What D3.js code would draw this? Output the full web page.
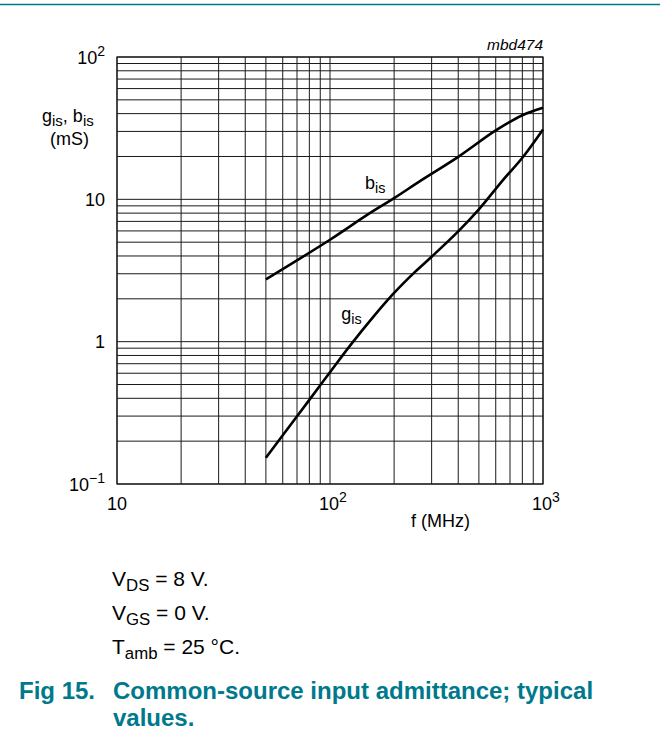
<!DOCTYPE html>
<html>
<head>
<meta charset="utf-8">
<script src="https://cdn.jsdelivr.net/npm/d3@7"></script>
<style>
  body { margin: 0; background: #fff; }
  text { font-family: "Liberation Sans", Arial, sans-serif; }
</style>
</head>
<body>
<div id="wrapper"></div>
<script>
// b_is curve (mS) against frequency (MHz)
const bisFreq = [50, 100, 150, 200, 270, 400, 600, 800, 1000]
const bisValues = [2.74, 5.2, 7.8, 10.2, 13.7, 19.9, 30.5, 39, 44]

// g_is curve (mS) against frequency (MHz)
const gisFreq = [50, 60, 80, 100, 125, 160, 200, 250, 300, 400, 500, 650, 800, 1000]
const gisValues = [0.153, 0.22, 0.39, 0.61, 0.95, 1.5, 2.2, 3.08, 3.95, 5.95, 8.5, 13.7, 19.6, 31]

// tick labels: base + exponent
const xTicks = [10, 100, 1000]
const xTickLabels = [["10", ""], ["10", "2"], ["10", "3"]]
const yTicks = [100, 10, 1, 0.1]
const yTickLabels = [["10", "2"], ["10", ""], ["1", ""], ["10", "\u22121"]]

const conditions = [["V", "DS", " = 8 V."], ["V", "GS", " = 0 V."], ["T", "amb", " = 25 \u00B0C."]]

const teal = "#00798c"

function drawChart() {
  let dimensions = {
    width: 660,
    height: 740,
    margin: { top: 57, right: 117, bottom: 256, left: 117 },
  }
  dimensions.boundedWidth = dimensions.width - dimensions.margin.left - dimensions.margin.right
  dimensions.boundedHeight = dimensions.height - dimensions.margin.top - dimensions.margin.bottom

  const wrapper = d3.select("#wrapper")
    .append("svg")
      .attr("width", dimensions.width)
      .attr("height", dimensions.height)

  // teal rule at the top of the page
  wrapper.append("line")
    .attr("x1", 0).attr("x2", dimensions.width)
    .attr("y1", 4.5).attr("y2", 4.5)
    .attr("stroke", teal)
    .attr("stroke-width", 1.5)

  const bounds = wrapper.append("g")
    .attr("transform", `translate(${dimensions.margin.left}, ${dimensions.margin.top})`)

  const xScale = d3.scaleLog()
    .domain([10, 1000])
    .range([0, dimensions.boundedWidth])

  const yScale = d3.scaleLog()
    .domain([0.1, 100])
    .range([dimensions.boundedHeight, 0])

  // grid
  const grid = bounds.append("g")
    .attr("stroke", "#1a1a1a")
    .attr("stroke-width", 1)

  grid.selectAll(".vgrid")
    .data(xScale.ticks())
    .join("line")
      .attr("x1", d => xScale(d)).attr("x2", d => xScale(d))
      .attr("y1", 0).attr("y2", dimensions.boundedHeight)

  grid.selectAll(".hgrid")
    .data(yScale.ticks())
    .join("line")
      .attr("y1", d => yScale(d)).attr("y2", d => yScale(d))
      .attr("x1", 0).attr("x2", dimensions.boundedWidth)

  bounds.append("rect")
    .attr("width", dimensions.boundedWidth)
    .attr("height", dimensions.boundedHeight)
    .attr("fill", "none")
    .attr("stroke", "#1a1a1a")
    .attr("stroke-width", 1.2)

  // curves
  const lineGenerator = d3.line()
    .x(d => xScale(d[0]))
    .y(d => yScale(d[1]))
    .curve(d3.curveCatmullRom.alpha(0.5))

  bounds.append("path")
    .attr("d", lineGenerator(d3.zip(bisFreq, bisValues)))
    .attr("fill", "none")
    .attr("stroke", "#000")
    .attr("stroke-width", 2.6)

  bounds.append("path")
    .attr("d", lineGenerator(d3.zip(gisFreq, gisValues)))
    .attr("fill", "none")
    .attr("stroke", "#000")
    .attr("stroke-width", 2.6)

  // helper for text with a subscript part
  const subText = (sel, main, sub, rest, size) => {
    sel.append("tspan").text(main)
    sel.append("tspan").text(sub)
      .attr("font-size", size * 0.8)
      .attr("dy", size * 0.22)
    if (rest) {
      sel.append("tspan").text(rest)
        .attr("dy", -size * 0.22)
    }
  }

  // curve labels
  const bLabel = bounds.append("text")
    .attr("x", xScale(146)).attr("y", yScale(11.8))
    .attr("font-size", 18)
  subText(bLabel, "b", "is", "", 18)

  const gLabel = bounds.append("text")
    .attr("x", xScale(113)).attr("y", yScale(1.42))
    .attr("font-size", 18)
  subText(gLabel, "g", "is", "", 18)

  // tick labels with superscripts
  const supText = (sel, base, exp, size) => {
    sel.append("tspan").text(base)
    if (exp) {
      sel.append("tspan").text(exp)
        .attr("font-size", size * 0.78)
        .attr("dy", -size * 0.42)
    }
  }

  yTicks.forEach((t, i) => {
    const label = bounds.append("text")
      .attr("x", -12)
      .attr("y", yScale(t) + 6.5)
      .attr("text-anchor", "end")
      .attr("font-size", 18)
    supText(label, yTickLabels[i][0], yTickLabels[i][1], 18)
  })

  xTicks.forEach((t, i) => {
    const label = bounds.append("text")
      .attr("x", xScale(t) + (xTickLabels[i][1] ? 3 : 0))
      .attr("y", dimensions.boundedHeight + 26)
      .attr("text-anchor", "middle")
      .attr("font-size", 18)
    supText(label, xTickLabels[i][0], xTickLabels[i][1], 18)
  })

  // axis titles
  const yTitle = wrapper.append("text")
    .attr("x", 42).attr("y", 122)
    .attr("font-size", 18)
  yTitle.append("tspan").text("g")
  yTitle.append("tspan").text("is").attr("font-size", 15).attr("dy", 4)
  yTitle.append("tspan").text(", b").attr("dy", -4)
  yTitle.append("tspan").text("is").attr("font-size", 15).attr("dy", 4)

  wrapper.append("text")
    .attr("x", 50).attr("y", 145)
    .attr("font-size", 18)
    .text("(mS)")

  bounds.append("text")
    .attr("x", xScale(330)).attr("y", dimensions.boundedHeight + 43)
    .attr("text-anchor", "middle")
    .attr("font-size", 18)
    .text("f (MHz)")

  bounds.append("text")
    .attr("x", dimensions.boundedWidth).attr("y", -7)
    .attr("text-anchor", "end")
    .attr("font-size", 15.5)
    .attr("font-style", "italic")
    .text("mbd474")

  // measurement conditions
  conditions.forEach((c, i) => {
    const t = wrapper.append("text")
      .attr("x", 112).attr("y", 586 + i * 34)
      .attr("font-size", 21)
    subText(t, c[0], c[1], c[2], 21)
  })

  // figure caption
  const caption = [["Fig 15.", 19, 699], ["Common-source input admittance; typical", 113, 699], ["values.", 113, 726]]
  caption.forEach(c => {
    wrapper.append("text")
      .attr("x", c[1]).attr("y", c[2])
      .attr("font-size", 24)
      .attr("font-weight", "bold")
      .attr("fill", teal)
      .text(c[0])
  })
}

drawChart()
</script>
</body>
</html>
